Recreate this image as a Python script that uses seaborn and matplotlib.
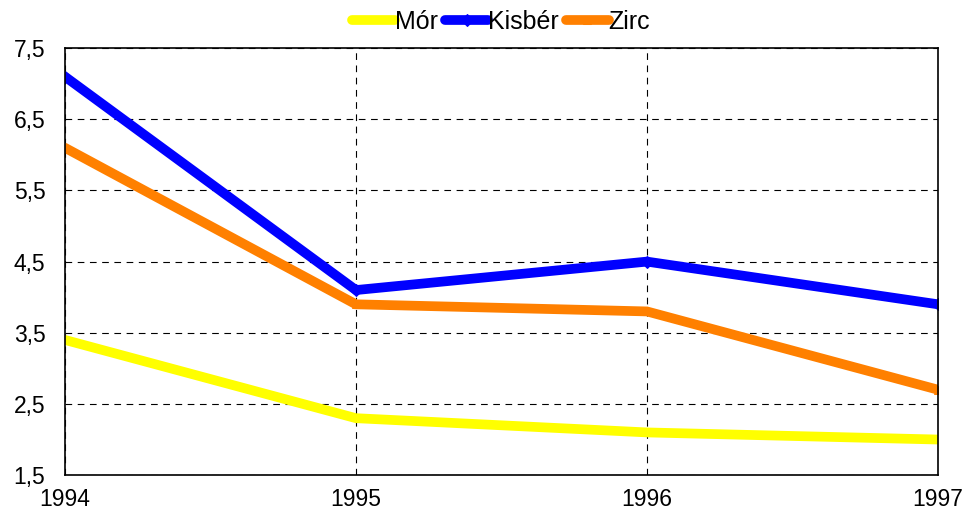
import matplotlib
matplotlib.use('Agg')
import matplotlib.pyplot as plt
import seaborn as sns
import pandas as pd

sns.set_style("white")
plt.rcParams['font.family'] = ['Liberation Sans', 'DejaVu Sans']
plt.rcParams['text.color'] = 'black'
plt.rcParams['xtick.color'] = 'black'
plt.rcParams['ytick.color'] = 'black'

years = [1994, 1995, 1996, 1997]
mor = [3.4, 2.3, 2.1, 2.0]
kisber = [7.1, 4.1, 4.5, 3.9]
zirc = [6.1, 3.9, 3.8, 2.7]
series_names = ["Mór", "Kisbér", "Zirc"]
colors = ["#FFFF00", "#0000FF", "#FF8000"]
markers = ["", "D", "^"]

df = pd.DataFrame({"year": years * 3,
                   "value": mor + kisber + zirc,
                   "series": [s for s in series_names for _ in years]})

fig = plt.figure(figsize=(9.68, 5.17), dpi=100)
ax = fig.add_axes([0.067, 0.081, 0.902, 0.826])

for name, col, mk in zip(series_names, colors, markers):
    sub = df[df["series"] == name]
    sns.lineplot(data=sub, x="year", y="value", ax=ax, color=col, linewidth=7,
                 marker=mk if mk else None, markersize=6, markeredgecolor=col,
                 label=name, solid_capstyle="round", solid_joinstyle="miter")

ax.set_xlim(1994, 1997)
ax.set_ylim(1.5, 7.5)
ax.set_xticks(years)
ax.set_xticklabels([str(y) for y in years])
yt = [1.5, 2.5, 3.5, 4.5, 5.5, 6.5, 7.5]
ax.set_yticks(yt)
ax.set_yticklabels([("%.1f" % v).replace(".", ",") for v in yt])
ax.tick_params(labelsize=16.5, length=0, colors="black")
ax.tick_params(axis="x", pad=9)
ax.tick_params(axis="y", pad=14)
ax.set_xlabel("")
ax.set_ylabel("")
ax.grid(True, color="black", linestyle=(0, (6, 5)), linewidth=0.8)
for s in ax.spines.values():
    s.set_color("black")
    s.set_linewidth(1.2)

ax.legend(loc="lower center", bbox_to_anchor=(0.5, 1.01), ncol=3, frameon=False,
          fontsize=18, handlelength=1.7, handletextpad=0.0, columnspacing=0.3,
          borderaxespad=0, labelcolor="black")

plt.savefig("out.png", dpi=100)
plt.close(fig)
